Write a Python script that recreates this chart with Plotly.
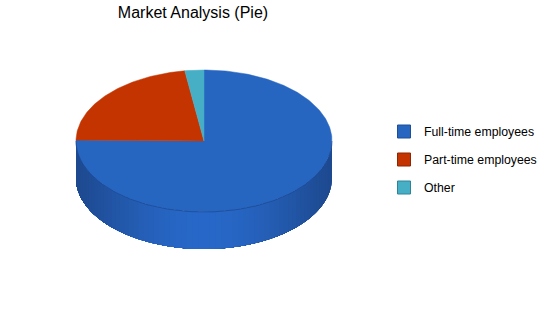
import numpy as np
import plotly.graph_objects as go

categories = ["Full-time employees", "Part-time employees", "Other"]
values = [94, 28, 3]
colors = ["#2665C0", "#C33400", "#46AFC6"]
border_colors = ["#1D4E96", "#8E2600", "#2E8496"]

title = "Market Analysis (Pie)"

# geometry (pixel space)
cx, cy = 204, 141
rx, ry = 128, 71
depth = 37

fig = go.Figure()

def pt(t, dy=0):
    return cx + rx * np.sin(t), cy - ry * np.cos(t) + dy

# side wall (front half), horizontal gradient, overlapping strips to avoid seams
N = 70
ts = np.linspace(np.pi / 2, 3 * np.pi / 2, N + 1)
edge = np.array([30, 74, 144])
mid = np.array([40, 104, 200])
end = ts[-1]
for i in range(N):
    a, b = ts[i], ts[i + 1]
    sub = np.linspace(a, end, max(int((end - a) * 40), 4))
    xs_top, ys_top = pt(sub)
    xs_bot, ys_bot = pt(sub[::-1], depth)
    xm = (pt((a + b) / 2)[0] - cx) / rx
    w = np.cos(xm * np.pi / 2) ** 1.2
    c = edge + (mid - edge) * w
    col = "rgb(%d,%d,%d)" % tuple(c.astype(int))
    fig.add_trace(go.Scatter(
        x=np.concatenate([xs_top, xs_bot]), y=np.concatenate([ys_top, ys_bot]),
        fill="toself", fillcolor=col, mode="none",
        showlegend=False, hoverinfo="skip"))

# top slices
total = sum(values)
start = 0.0
for cat, v, col in zip(categories, values, colors):
    ang = 2 * np.pi * v / total
    t = np.linspace(start, start + ang, max(int(ang * 60), 4))
    xs, ys = pt(t)
    xs = np.concatenate([[cx], xs, [cx]])
    ys = np.concatenate([[cy], ys, [cy]])
    fig.add_trace(go.Scatter(x=xs, y=ys, fill="toself", fillcolor=col, mode="lines",
                             line=dict(color=col, width=0.5), showlegend=False,
                             name=cat, hoverinfo="name"))
    start += ang

# front rim line of the top face
tr = np.linspace(np.pi / 2, 3 * np.pi / 2, 120)
rxs, rys = pt(tr)
fig.add_trace(go.Scatter(x=rxs, y=rys, mode="lines", line=dict(color="rgba(25,60,120,0.6)", width=0.8),
                         showlegend=False, hoverinfo="skip"))

# legend entries
for i, (cat, col, bc) in enumerate(zip(categories, colors, border_colors)):
    fig.add_trace(go.Scatter(x=[None], y=[None], mode="markers", name=cat,
                             legendgroup="g%d" % i,
                             marker=dict(symbol="square", size=13, color=col,
                                         line=dict(color=bc, width=1))))

fig.update_layout(
    width=550, height=318,
    margin=dict(l=0, r=0, t=0, b=0),
    paper_bgcolor="white", plot_bgcolor="white",
    font=dict(family="Arial, Liberation Sans, sans-serif", color="black", size=12),
    title=dict(text=title, x=193 / 550, xanchor="center", y=1 - 12 / 318, yanchor="middle",
               font=dict(size=16, color="black")),
    xaxis=dict(range=[0, 550], visible=False, fixedrange=True),
    yaxis=dict(range=[318, 0], visible=False, fixedrange=True),
    legend=dict(x=384 / 550, y=1 - 117 / 318, xanchor="left", yanchor="top",
                tracegroupgap=9, bgcolor="rgba(0,0,0,0)", font=dict(size=12.3)),
    showlegend=True,
)

fig.write_html("out.html")
